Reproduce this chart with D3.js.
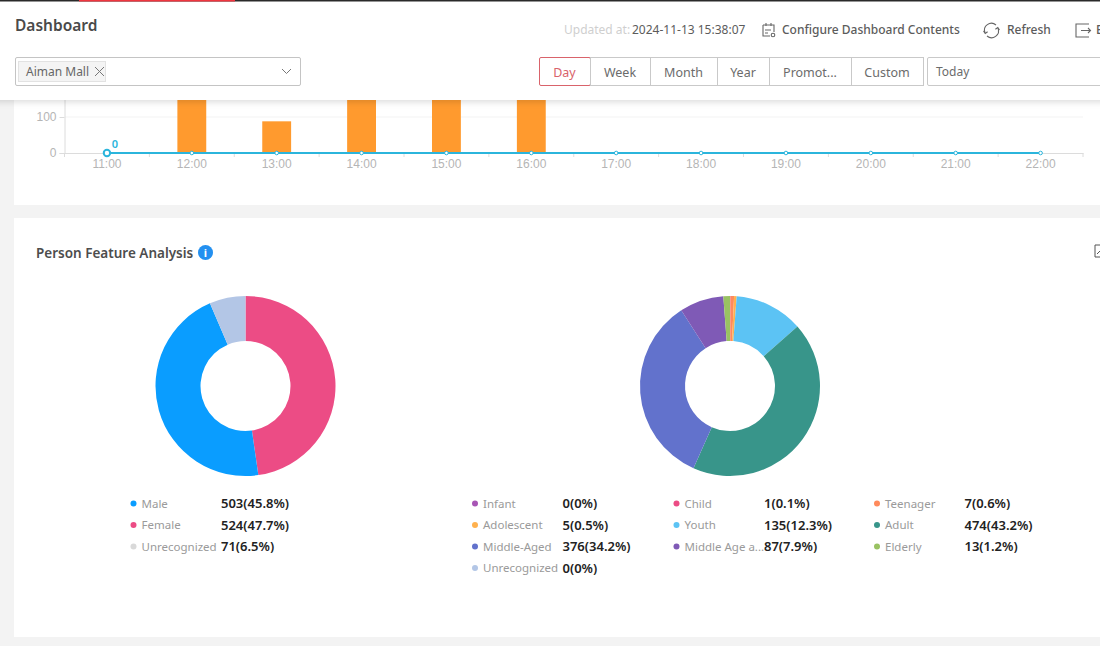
<!DOCTYPE html>
<html>
<head>
<meta charset="utf-8">
<title>Dashboard</title>
<script src="https://cdn.jsdelivr.net/npm/d3@7"></script>
<style>
    html, body { margin: 0; padding: 0; background: #f3f3f3; overflow: hidden; }
    svg { display: block; font-family: "Noto Sans", "Open Sans", sans-serif; }
    .domain { stroke: #dcdcdc; }
    .tick line { stroke: #dcdcdc; }
    .tick text { fill: #b5b5b5; font-size: 12px; }
</style>
</head>
<body>
<script>
//hourly chart data (bars above 100 are hidden under the header, so their heights are estimates)
var hours = ["11:00", "12:00", "13:00", "14:00", "15:00", "16:00", "17:00", "18:00", "19:00", "20:00", "21:00", "22:00"];
var barValues = [0, 260, 88, 320, 290, 240, 0, 0, 0, 0, 0, 0];
var lineValues = [0, 0, 0, 0, 0, 0, 0, 0, 0, 0, 0, 0];
var yTicks = [0, 100, 200, 300, 400];

//gender donut, in drawing order
var genderNames = ["Female", "Male", "Unrecognized"];
var genderValues = [524, 503, 71];
var genderPercents = ["47.7%", "45.8%", "6.5%"];
var genderColors = ["#ec4c85", "#0a9dff", "#b3c6e6"];
var genderDots = ["#ec4c85", "#0a9dff", "#d9d9d9"];
var genderLegend = ["Male", "Female", "Unrecognized"];

//age donut, in drawing order
var ageNames = ["Infant", "Child", "Teenager", "Adolescent", "Youth", "Adult", "Middle-Aged", "Middle Age a...", "Elderly", "Unrecognized"];
var ageValues = [0, 1, 7, 5, 135, 474, 376, 87, 13, 0];
var agePercents = ["0%", "0.1%", "0.6%", "0.5%", "12.3%", "43.2%", "34.2%", "7.9%", "1.2%", "0%"];
var ageColors = ["#a855b5", "#ec4c85", "#ff8a5c", "#ffb14e", "#5cc3f4", "#38958a", "#6272cc", "#7f5ab6", "#99c262", "#b3c6e6"];
var ageLegend = ["Infant", "Child", "Teenager", "Adolescent", "Youth", "Adult", "Middle-Aged", "Middle Age a...", "Elderly", "Unrecognized"];

var periods = ["Day", "Week", "Month", "Year", "Promot...", "Custom"];

var width = 1100,
    height = 646;

var svg = d3.select("body")
    .append("svg")
    .attr("width", width)
    .attr("height", height);

var defs = svg.append("defs");
var shadow = defs.append("filter").attr("id", "shadow")
    .attr("x", "-5%").attr("y", "-10%").attr("width", "110%").attr("height", "130%");
shadow.append("feDropShadow")
    .attr("dx", 0).attr("dy", 2).attr("stdDeviation", 3)
    .attr("flood-color", "#000").attr("flood-opacity", 0.14);

//cards
svg.append("rect").attr("x", 14).attr("y", 60).attr("width", 1100).attr("height", 145).attr("fill", "#fff");
svg.append("rect").attr("x", 14).attr("y", 218).attr("width", 1100).attr("height", 419).attr("fill", "#fff");

drawHourly();
drawHeader();
drawFeatures();

//bars and flat line behind the header
function drawHourly(){
    var x = d3.scaleBand().domain(hours).range([64.5, 1083]).padding(0);
    var y = d3.scaleLinear().domain([0, 400]).range([153, 9]);
    var barWidth = x.bandwidth() * 0.34;

    var center = function(d){ return x(d) + x.bandwidth() / 2; };

    //grid
    svg.append("g").selectAll("line")
        .data(yTicks.slice(1))
        .enter().append("line")
        .attr("x1", 65).attr("x2", 1083)
        .attr("y1", function(d){ return y(d); })
        .attr("y2", function(d){ return y(d); })
        .attr("stroke", "#f3f3f3");

    var xAxis = svg.append("g")
        .attr("transform", "translate(0,153)")
        .call(d3.axisBottom(x).tickSize(0).tickPadding(6));

    //ticks sit between the categories
    svg.append("g").selectAll("line")
        .data(d3.range(hours.length + 1))
        .enter().append("line")
        .attr("x1", function(d){ return 64.5 + d * x.step(); })
        .attr("x2", function(d){ return 64.5 + d * x.step(); })
        .attr("y1", 153).attr("y2", 157)
        .attr("stroke", "#dcdcdc");

    svg.append("g")
        .attr("transform", "translate(64.5,0)")
        .call(d3.axisLeft(y).tickValues(yTicks).tickSize(5).tickPadding(3));

    svg.selectAll(".bar")
        .data(barValues.map(function(v, i){ return {hour: hours[i], value: v}; }))
        .enter().append("rect")
        .attr("class", "bar")
        .attr("x", function(d){ return center(d.hour) - barWidth / 2; })
        .attr("width", barWidth)
        .attr("y", function(d){ return y(d.value); })
        .attr("height", function(d){ return y(0) - y(d.value); })
        .attr("fill", "#ff9a2e");

    var line = d3.line()
        .x(function(d, i){ return center(hours[i]); })
        .y(function(d){ return y(d); });

    svg.append("path")
        .datum(lineValues)
        .attr("d", line)
        .attr("fill", "none")
        .attr("stroke", "#2bb5dc")
        .attr("stroke-width", 2);

    svg.selectAll(".pt")
        .data(lineValues)
        .enter().append("circle")
        .attr("class", "pt")
        .attr("cx", function(d, i){ return center(hours[i]); })
        .attr("cy", function(d){ return y(d); })
        .attr("r", function(d, i){ return i == 0 ? 3.2 : 1.8; })
        .attr("fill", "#fff")
        .attr("stroke", "#2bb5dc")
        .attr("stroke-width", function(d, i){ return i == 0 ? 2 : 1; });

    svg.append("text")
        .attr("x", center(hours[0]) + 8)
        .attr("y", y(lineValues[0]) - 5)
        .attr("text-anchor", "middle")
        .attr("font-size", 11)
        .attr("font-weight", 600)
        .attr("fill", "#2bb5dc")
        .text(lineValues[0]);
}

function drawHeader(){
    svg.append("rect").attr("x", -10).attr("y", 0).attr("width", 1120).attr("height", 100)
        .attr("fill", "#fff").attr("filter", "url(#shadow)");

    //top strip
    svg.append("rect").attr("width", width).attr("height", 1.5).attr("fill", "#2a2a2a");
    svg.append("rect").attr("x", 79).attr("width", 156).attr("height", 1.5).attr("fill", "#f0353f");

    svg.append("text").attr("x", 15).attr("y", 31)
        .attr("font-size", 15.5).attr("font-weight", 600).attr("fill", "#4a4a4a").text("Dashboard");

    svg.append("text").attr("x", 564).attr("y", 34)
        .attr("font-size", 12).attr("fill", "#cfcfcf").text("Updated at:");
    svg.append("text").attr("x", 632).attr("y", 34)
        .attr("font-size", 12).attr("fill", "#5c5c5c").text("2024-11-13 15:38:07");
    svg.append("text").attr("x", 782).attr("y", 34)
        .attr("font-size", 12).attr("font-weight", 500).attr("fill", "#5c5c5c").text("Configure Dashboard Contents");
    svg.append("text").attr("x", 1007).attr("y", 34)
        .attr("font-size", 12).attr("font-weight", 500).attr("fill", "#5c5c5c").text("Refresh");
    svg.append("text").attr("x", 1096).attr("y", 34)
        .attr("font-size", 12).attr("font-weight", 500).attr("fill", "#5c5c5c").text("Export");

    //calendar icon
    var icon = svg.append("g").attr("fill", "none").attr("stroke", "#666").attr("stroke-width", 1.1);
    icon.append("path").attr("d", "M763 25h11v7 M763 25v11h7 M766 23v3 M771 23v3 M765 30h6 M765 33h3");
    icon.append("circle").attr("cx", 773).attr("cy", 35).attr("r", 1.8);
    //refresh icon
    icon.append("path").attr("d", "M985 33a7 7 0 0 1 11-8 M998 28a7 7 0 0 1-11 8 M983.5 31l1.7 2.5 2.4-1.8 M999.5 30l-1.7-2.5-2.4 1.8");
    //export icon
    icon.append("path").attr("d", "M1089 24h-13v13h13 M1081 30.5h9 M1088 28l2.5 2.5-2.5 2.5");

    //site selector
    svg.append("rect").attr("x", 15.5).attr("y", 57.5).attr("width", 285).attr("height", 28).attr("rx", 1.5)
        .attr("fill", "#fff").attr("stroke", "#c4c4c4");
    svg.append("rect").attr("x", 18.5).attr("y", 61.5).attr("width", 87).attr("height", 20)
        .attr("fill", "#f4f4f4").attr("stroke", "#e2e2e2");
    svg.append("text").attr("x", 26).attr("y", 76)
        .attr("font-size", 12).attr("fill", "#666").text("Aiman Mall");
    svg.append("path").attr("d", "M95 67l9 9 M104 67l-9 9 M282 69l4.5 4.5 4.5-4.5")
        .attr("fill", "none").attr("stroke", "#777");

    //period buttons
    var edges = [539, 590, 650, 717, 769, 851, 923];
    var buttons = svg.append("g").selectAll("g")
        .data(periods)
        .enter().append("g");
    buttons.filter(function(d, i){ return i > 0; }).append("rect")
        .attr("x", function(d){ return edges[periods.indexOf(d)] + 0.5; })
        .attr("y", 57.5)
        .attr("width", function(d){ var i = periods.indexOf(d); return edges[i + 1] - edges[i]; })
        .attr("height", 28)
        .attr("fill", "#fff").attr("stroke", "#c9c9c9");
    buttons.filter(function(d, i){ return i == 0; }).append("rect")
        .attr("x", edges[0] + 0.5).attr("y", 57.5)
        .attr("width", edges[1] - edges[0]).attr("height", 28).attr("rx", 1.5)
        .attr("fill", "#fff").attr("stroke", "#d9636b");
    buttons.append("text")
        .attr("x", function(d){ var i = periods.indexOf(d); return (edges[i] + edges[i + 1]) / 2; })
        .attr("y", 77)
        .attr("text-anchor", "middle")
        .attr("font-size", 12.5)
        .attr("fill", function(d, i){ return i == 0 ? "#d9636b" : "#6b6b6b"; })
        .text(function(d){ return d; });

    svg.append("rect").attr("x", 927.5).attr("y", 57.5).attr("width", 200).attr("height", 28).attr("rx", 1.5)
        .attr("fill", "#fff").attr("stroke", "#c9c9c9");
    svg.append("text").attr("x", 936).attr("y", 76)
        .attr("font-size", 12).attr("fill", "#6b6b6b").text("Today");
}

function drawFeatures(){
    svg.append("text").attr("x", 36).attr("y", 258)
        .attr("font-size", 13.5).attr("font-weight", 600).attr("fill", "#4d4d4d").text("Person Feature Analysis");
    svg.append("circle").attr("cx", 205.5).attr("cy", 252.5).attr("r", 7.5).attr("fill", "#2390f0");
    svg.append("text").attr("x", 205.5).attr("y", 257).attr("text-anchor", "middle")
        .attr("font-size", 11).attr("font-weight", 700).attr("fill", "#fff").text("i");
    svg.append("path").attr("d", "M1101 245h-6v12h6 M1097 254l3-3")
        .attr("fill", "none").attr("stroke", "#555");

    drawDonut(245.5, 386, genderValues, genderColors);
    drawDonut(730, 386, ageValues, ageColors);

    //legends
    var genderRows = genderLegend.map(function(name, r){
        var i = genderNames.indexOf(name);
        return {name: name, value: genderValues[i], pct: genderPercents[i], color: genderDots[i], col: 0, row: r};
    });
    drawLegend(genderRows, [133.5]);

    var ageRows = ageLegend.map(function(name, k){
        var i = ageNames.indexOf(name);
        return {name: name, value: ageValues[i], pct: agePercents[i], color: ageColors[i], col: k % 3, row: Math.floor(k / 3)};
    });
    drawLegend(ageRows, [475, 676.5, 877]);
}

function drawDonut(cx, cy, values, colors){
    var pie = d3.pie().sort(null);
    var arc = d3.arc().innerRadius(45).outerRadius(90);
    svg.append("g")
        .attr("transform", "translate(" + cx + "," + cy + ")")
        .selectAll("path")
        .data(pie(values))
        .enter().append("path")
        .attr("d", arc)
        .attr("fill", function(d, i){ return colors[i]; });
}

function drawLegend(rows, columns){
    var rowY = d3.scaleLinear().domain([0, 1]).range([503.5, 525]);
    var item = svg.append("g").selectAll("g")
        .data(rows)
        .enter().append("g")
        .attr("transform", function(d){ return "translate(" + columns[d.col] + "," + rowY(d.row) + ")"; });
    item.append("circle").attr("r", 3).attr("fill", function(d){ return d.color; });
    item.append("text").attr("x", 8).attr("y", 4)
        .attr("font-size", 11.5).attr("fill", "#9a9a9a")
        .text(function(d){ return d.name; });
    item.append("text").attr("x", 87.5).attr("y", 4.5)
        .attr("font-size", 13).attr("font-weight", 600).attr("fill", "#222")
        .text(function(d){ return d.value + "(" + d.pct + ")"; });
}
</script>
</body>
</html>
